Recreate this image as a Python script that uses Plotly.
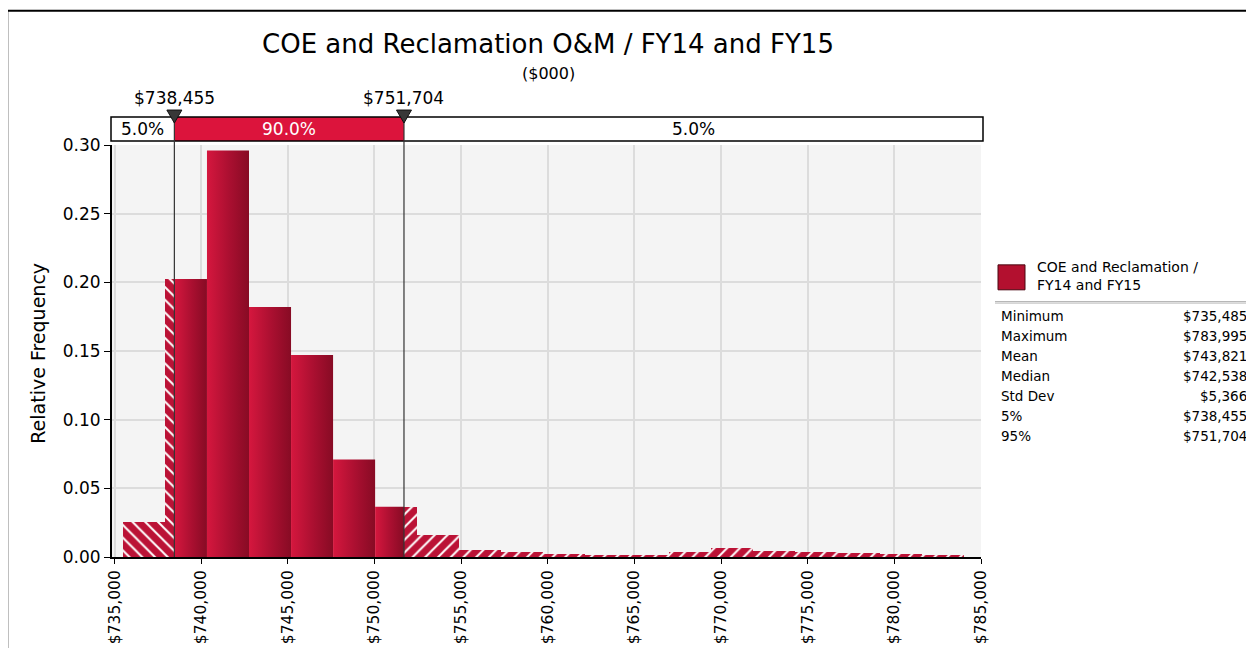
import numpy as np
import plotly.graph_objects as go

# ---- data ----
TITLE = "COE and Reclamation O&M / FY14 and FY15"
SUBTITLE = "($000)"
SERIES_NAME = "COE and Reclamation /<br>FY14 and FY15"

MINIMUM = 735485
MAXIMUM = 783995
P5 = 738455
P95 = 751704
N_BINS = 20

rel_freq = [0.0255, 0.2025, 0.296, 0.182, 0.147, 0.071, 0.0366, 0.016, 0.005, 0.0034,
            0.0022, 0.0015, 0.0013, 0.0034, 0.0064, 0.0046, 0.0039, 0.0027, 0.002, 0.0008]

band_labels = ["5.0%", "90.0%", "5.0%"]

stat_names = ["Minimum", "Maximum", "Mean", "Median", "Std Dev", "5%", "95%"]
stat_values = ["$735,485", "$783,995", "$743,821", "$742,538", "$5,366", "$738,455", "$751,704"]

x_ticks = list(range(735000, 785001, 5000))
x_tick_text = [f"${v:,}" for v in x_ticks]
y_ticks = [0, 0.05, 0.10, 0.15, 0.20, 0.25, 0.30]

FONT = "DejaVu Sans"
CRIMSON = "#dc143c"
HATCH_BG = "#bb1236"

# page body adds an 8px margin; keep the figure inside the window
OFF = 8
W, H = 1254 - OFF, 656 - 2 * OFF

# plot area in page pixels
PL, PR, PT, PB = 112, 981, 145, 557.5
def px(x):
    return (x - PL) / (PR - PL)
def py(y):
    return (PB - y) / (PB - PT)

X_RANGE = [734856, 785000]
Y_RANGE = [0, 0.30]

edges = np.linspace(MINIMUM, MAXIMUM, N_BINS + 1)

fig = go.Figure()

# split bins at the 5% / 95% marks
hatch_left = dict(x=[], w=[], y=[])
hatch_right = dict(x=[], w=[], y=[])
for i, f in enumerate(rel_freq):
    a, b = edges[i], edges[i + 1]
    if a < P5:
        e = min(b, P5)
        hatch_left["x"].append((a + e) / 2); hatch_left["w"].append(e - a); hatch_left["y"].append(f)
    s, e = max(a, P5), min(b, P95)
    if e > s:
        fig.add_trace(go.Scatter(
            x=[s, s, e, e, s], y=[0, f, f, 0, 0], mode="lines", fill="toself",
            line=dict(width=0), hoverinfo="skip", showlegend=False,
            fillgradient=dict(type="horizontal",
                              colorscale=[[0, "#d5173e"], [0.55, "#a90f30"], [1, "#870b24"]]),
        ))
    if b > P95:
        s = max(a, P95)
        hatch_right["x"].append((s + b) / 2); hatch_right["w"].append(b - s); hatch_right["y"].append(f)

for d, shape in [(hatch_left, "\\"), (hatch_right, "/")]:
    fig.add_trace(go.Bar(
        x=d["x"], y=d["y"], width=d["w"], showlegend=False, hoverinfo="skip",
        marker=dict(color=HATCH_BG, line=dict(width=0),
                    pattern=dict(shape=shape, fgcolor="white", bgcolor=HATCH_BG,
                                 fillmode="replace", size=9, solidity=0.22)),
    ))

shapes = []
# percentile band box
shapes.append(dict(type="rect", xref="paper", yref="paper", x0=px(111), x1=px(983),
                   y0=py(141), y1=py(117), fillcolor="white", line=dict(width=0), layer="below"))
shapes.append(dict(type="rect", xref="x", yref="paper", x0=P5, x1=P95,
                   y0=py(141), y1=py(117), fillcolor=CRIMSON, line=dict(width=0), layer="below"))
shapes.append(dict(type="rect", xref="paper", yref="paper", x0=px(111), x1=px(983),
                   y0=py(141), y1=py(117), line=dict(color="black", width=1.5), layer="below"))
for v in [P5, P95]:
    # percentile line
    shapes.append(dict(type="line", xref="x", yref="paper", x0=v, x1=v, y0=0, y1=py(117),
                       line=dict(color="#333", width=1.2), layer="above"))
    # percentile marker triangle (pixel-sized, anchored at the value)
    shapes.append(dict(type="path", xref="x", yref="paper", xsizemode="pixel", ysizemode="pixel",
                       xanchor=v, yanchor=py(116.5), path="M-7.5,6.5 L7.5,6.5 L0,-6.5 Z",
                       fillcolor="#383838", line=dict(color="#111", width=1), layer="above"))
# outer frame
shapes.append(dict(type="line", xref="paper", yref="paper", x0=px(7.5), x1=px(1260),
                   y0=py(10.5), y1=py(10.5), line=dict(color="black", width=2)))
shapes.append(dict(type="line", xref="paper", yref="paper", x0=px(7.5), x1=px(7.5),
                   y0=py(10.5), y1=py(700), line=dict(color="black", width=1.5)))
# legend swatch and separator
shapes.append(dict(type="rect", xref="paper", yref="paper", x0=px(998), x1=px(1025),
                   y0=py(290), y1=py(265), fillcolor="#b3102f", line=dict(color="#4a0610", width=1)))
shapes.append(dict(type="line", xref="paper", yref="paper", x0=px(995), x1=px(1251),
                   y0=py(302), y1=py(302), line=dict(color="#999", width=1)))
shapes.append(dict(type="line", xref="paper", yref="paper", x0=px(995), x1=px(1251),
                   y0=py(303.5), y1=py(303.5), line=dict(color="#ccc", width=1)))

def note(text, x, y, size, xref="paper", xanchor="center", color="black", **kw):
    return dict(text=text, xref=xref, yref="paper", x=x, y=y, xanchor=xanchor,
                yanchor="middle", showarrow=False, font=dict(size=size, color=color), **kw)

ann = []
ann.append(note(SUBTITLE, px(548), py(73), 16))
ann.append(note("Relative Frequency", px(38), py(354), 19, textangle=-90))
for v in [P5, P95]:
    ann.append(note(f"${v:,}", v, py(98), 17, xref="x"))
left_edge = X_RANGE[0] + (111 - PL) / (PR - PL) * (X_RANGE[1] - X_RANGE[0])
right_edge = X_RANGE[0] + (983 - PL) / (PR - PL) * (X_RANGE[1] - X_RANGE[0])
centers = [(left_edge + P5) / 2, (P5 + P95) / 2, (P95 + right_edge) / 2]
for c, lab, col in zip(centers, band_labels, ["black", "white", "black"]):
    ann.append(note(lab, c, py(129), 17, xref="x", color=col))
ann.append(note(SERIES_NAME, px(1035), py(276), 14, xanchor="left", align="left"))
for k, (n, v) in enumerate(zip(stat_names, stat_values)):
    yy = py(316 + 20 * k)
    ann.append(note(n, px(999), yy, 13.5, xanchor="left"))
    ann.append(note(v, px(1249), yy, 13.5, xanchor="right"))

fig.update_layout(
    width=W, height=H,
    margin=dict(l=PL - OFF, r=1254 - PR, t=PT - OFF, b=(OFF + H) - PB, autoexpand=False),
    paper_bgcolor="white", plot_bgcolor="#f4f4f4",
    font=dict(family=FONT, color="black"),
    title=dict(text=TITLE, x=px(548), xanchor="center", xref="paper",
               y=1 - (44 - OFF) / H, yanchor="middle", yref="container",
               font=dict(size=26, color="black")),
    barmode="overlay", bargap=0, showlegend=False,
    shapes=shapes, annotations=ann,
    xaxis=dict(range=X_RANGE, tickvals=x_ticks, ticktext=x_tick_text, tickangle=-90,
               ticks="outside", ticklen=5, tickcolor="black", showline=True, linecolor="black",
               linewidth=2, showgrid=True, gridcolor="#dcdcdc", gridwidth=1.5, zeroline=False,
               tickfont=dict(size=15.5), automargin=False),
    yaxis=dict(range=Y_RANGE, tickvals=y_ticks, tickformat=".2f", ticks="outside", ticklen=6,
               tickcolor="black", showline=True, linecolor="black", linewidth=2,
               showgrid=True, gridcolor="#dcdcdc", gridwidth=1.5, zeroline=False,
               tickfont=dict(size=17), automargin=False),
)

fig.write_html("out.html")
